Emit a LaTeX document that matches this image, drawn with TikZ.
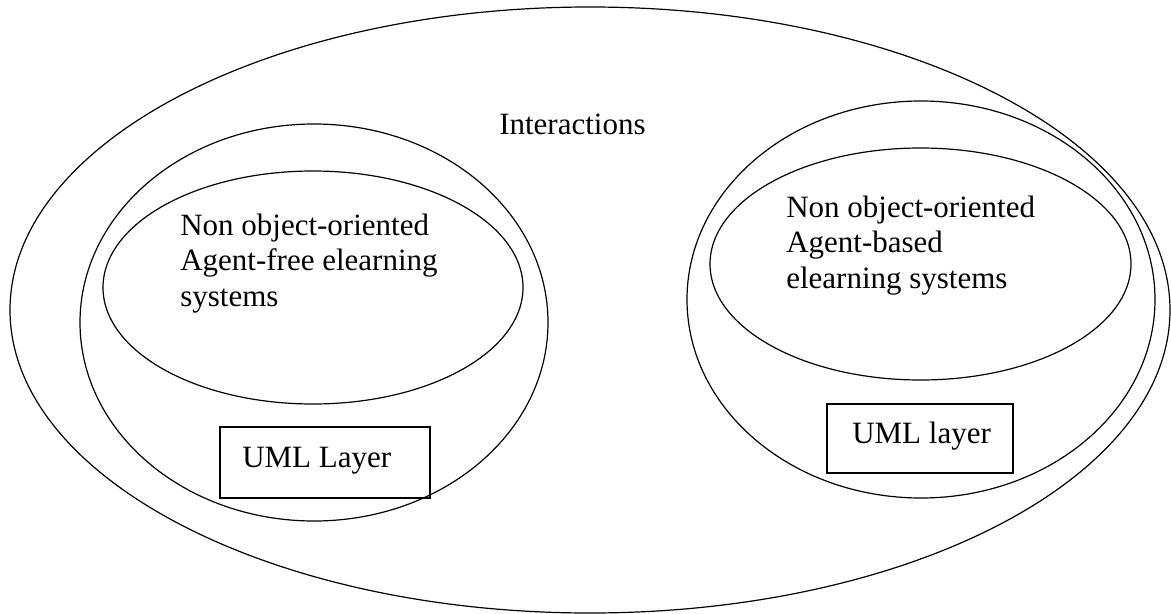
\documentclass[tikz,border=0pt]{standalone}
\usepackage{fontspec}
\setmainfont{Liberation Serif}
\usetikzlibrary{shapes.geometric}
\begin{document}
\begin{tikzpicture}[x=0.75pt,y=-0.75pt,
  ell/.style={draw,ellipse,inner sep=0pt,outer sep=0pt,line width=0.9pt},
  lbl/.style={inner sep=0pt,anchor=base west,align=left,font=\fontsize{23.25pt}{26.6pt}\selectfont},
  layerbox/.style={draw,rectangle,inner sep=0pt,outer sep=0pt,line width=0.9pt}]
\useasboundingbox (0,0) rectangle (1171,614);
% outer region
\node[ell,minimum width=870pt,minimum height=454.5pt] (outer) at (590,310) {};
% left group
\node[ell,minimum width=351pt,minimum height=297.75pt] (lmid) at (314,322.5) {};
\node[ell,minimum width=315pt,minimum height=174.75pt] (linner) at (313,287.5) {};
\node[layerbox,minimum width=157.5pt,minimum height=53.25pt] (lbox) at (325,462.5) {};
% right group
\node[ell,minimum width=351pt,minimum height=297.75pt] (rmid) at (921,299.5) {};
\node[ell,minimum width=315.75pt,minimum height=174pt] (rinner) at (920.5,264) {};
\node[layerbox,minimum width=139.5pt,minimum height=51.75pt] (rbox) at (920,438.5) {};
% texts (multi-line nodes: base anchor is on the last line)
\node[lbl] (tint) at (499,134) {Interactions};
\node[lbl] (tleft) at (180,306) {Non object-oriented\\Agent-free elearning\\systems};
\node[lbl] (tright) at (786,288) {Non object-oriented\\Agent-based\\elearning systems};
\node[lbl] (tlbox) at (242,467) {UML Layer};
\node[lbl] (trbox) at (852,443) {UML layer};
\end{tikzpicture}
\end{document}
